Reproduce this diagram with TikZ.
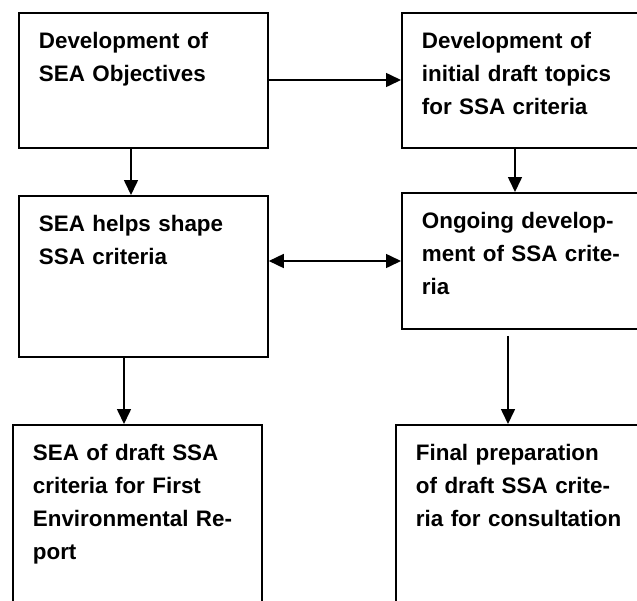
\documentclass[tikz,border=0pt]{standalone}
\usepackage{fontspec}
\setmainfont{Liberation Sans}
\usetikzlibrary{arrows.meta}

\begin{document}
\begin{tikzpicture}[x=1pt, y=-1pt,
    stage/.style={draw, line width=1.8pt, anchor=north west, align=left,
      text width=209pt, inner xsep=20pt, inner ysep=20pt, text height=16pt,
      font=\bfseries\fontsize{22.4}{33}\selectfont},
    flow/.style={line width=1.6pt, -{Triangle[length=15pt,width=14pt]}},
    both/.style={line width=1.6pt,
      {Triangle[length=15pt,width=14pt]}-{Triangle[length=15pt,width=14pt]}}]
    \useasboundingbox (0,0) rectangle (637,600);

    % top row
    \node[stage, text depth=79pt] (objectives) at (18,12)
      {Development of\\SEA Objectives};
    \node[stage, text depth=79pt] (topics) at (401,12)
      {Development of\\initial draft topics\\for SSA criteria};

    % middle row
    \node[stage, text depth=105pt] (shape) at (18,195)
      {SEA helps shape\\SSA criteria};
    \node[stage, text depth=80pt] (ongoing) at (401,192)
      {Ongoing develop-\\ment of SSA crite-\\ria};

    % bottom row
    \node[stage, text depth=144pt] (report) at (12,424)
      {SEA of draft SSA\\criteria for First\\Environmental Re-\\port};
    \node[stage, text depth=144pt] (final) at (395,424)
      {Final preparation\\of draft SSA crite-\\ria for consultation};

    % across
    \draw[flow] ([yshift=-68pt]objectives.north east)
      -- ([yshift=-68pt]objectives.north east -| topics.west);
    \draw[both] ([yshift=-66pt]shape.north east)
      -- ([yshift=-66pt]shape.north east -| ongoing.west);

    % down
    \draw[flow] ([xshift=113pt]objectives.south west) -- ([xshift=113pt]shape.north west);
    \draw[flow] ([xshift=114pt]topics.south west) -- ([xshift=114pt]ongoing.north west);
    \draw[flow] ([xshift=106pt]shape.south west) -- ([xshift=112pt]report.north west);
    \draw[flow, shorten <=6pt] ([xshift=107pt]ongoing.south west)
      -- ([xshift=113pt]final.north west);
  \end{tikzpicture}
\end{document}
